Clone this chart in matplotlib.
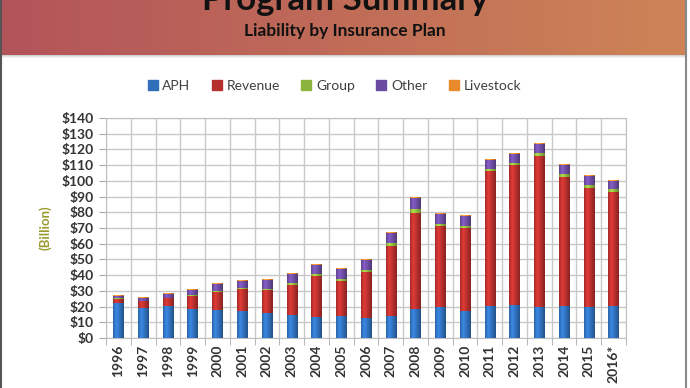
import numpy as np
import matplotlib
matplotlib.use("Agg")
import matplotlib.pyplot as plt
from matplotlib.colors import to_rgb
from matplotlib.lines import Line2D

years = ["1996", "1997", "1998", "1999", "2000", "2001", "2002", "2003", "2004",
         "2005", "2006", "2007", "2008", "2009", "2010", "2011", "2012", "2013",
         "2014", "2015", "2016*"]
aph = [22.5, 19.3, 20.4, 18.3, 17.6, 17.0, 16.1, 14.6, 13.6, 14.0, 12.5, 14.2,
       18.3, 19.9, 16.9, 20.3, 21.2, 19.5, 20.3, 19.5, 20.3]
revenue = [2.5, 4.2, 5.0, 8.5, 11.5, 14.2, 14.3, 19.2, 25.9, 22.5, 29.6, 44.6,
           61.5, 51.2, 53.1, 85.9, 88.8, 96.6, 82.4, 76.2, 72.6]
group = [0.3, 0.3, 0.3, 0.5, 0.5, 0.5, 1.0, 1.0, 1.0, 1.2, 1.0, 1.5,
         2.2, 1.5, 1.3, 1.4, 1.5, 1.5, 1.5, 1.5, 1.7]
other = [1.2, 1.5, 2.0, 3.5, 4.8, 4.4, 5.6, 5.8, 6.2, 6.5, 6.3, 6.8,
         7.3, 6.2, 6.2, 5.8, 5.9, 6.0, 5.8, 5.8, 5.0]
livestock = [0.1, 0.1, 0.1, 0.1, 0.2, 0.2, 0.2, 0.2, 0.2, 0.2, 0.3, 0.2,
             0.3, 0.2, 0.2, 0.3, 0.3, 0.4, 0.3, 0.3, 0.3]

series = [("APH", aph, "#2f6eb8"), ("Revenue", revenue, "#b52f2c"),
          ("Group", group, "#8cb43c"), ("Other", other, "#6b4ba0"),
          ("Livestock", livestock, "#e98a2c")]

FONT = "Lato"

fig = plt.figure(figsize=(6.9, 3.88), dpi=100)
fig.patch.set_facecolor("white")

# header band with gradient
hdr = fig.add_axes([0.003, 1 - 55 / 388, 0.99, 55 / 388])
c1 = np.array(to_rgb("#b2545a"))
c2 = np.array(to_rgb("#ce8456"))
t = np.linspace(0, 1, 256)[None, :, None]
hdr.imshow(c1 + (c2 - c1) * t, aspect="auto", extent=[0, 1, 0, 1])
hdr.set_axis_off()
# soft shadow under band
for i, a in enumerate([0.35, 0.2, 0.1]):
    fig.add_artist(plt.Rectangle((0.003, 1 - (56 + i) / 388), 0.99, 1 / 388,
                                 transform=fig.transFigure, color="gray",
                                 alpha=a, lw=0))

# title is clipped by the top edge in the original slide crop
fig.text(0.5, 1 - 10 / 388, "Program Summary", ha="center", va="baseline",
         fontsize=25, fontweight="bold", family=FONT, color="#111111")
fig.text(0.5, 1 - 36 / 388, "Liability by Insurance Plan", ha="center",
         va="baseline", fontsize=12.5, fontweight="bold", family=FONT,
         color="#111111")

# frame lines
fig.add_artist(Line2D([0.002, 0.002], [0, 1], transform=fig.transFigure,
                      color="#555555", lw=1.5))
fig.add_artist(Line2D([0.994, 0.994], [0, 1], transform=fig.transFigure,
                      color="#888888", lw=1.5))

ax = fig.add_axes([106 / 690, 1 - 338 / 388, 520 / 690, 220 / 388])
x = np.arange(len(years))
bottom = np.zeros(len(years))
prof = np.interp(np.linspace(0, 1, 64), [0, 0.3, 1], [0.9, 1.25, 0.75])
for name, vals, col in series:
    bars = ax.bar(x, vals, 0.42, bottom=bottom, color=col, label=name,
                  zorder=3, lw=0)
    base = np.array(to_rgb(col))
    grad = np.clip(base[None, None, :] * prof[None, :, None], 0, 1)
    for b in bars:
        bx, by, bw, bh = b.get_x(), b.get_y(), b.get_width(), b.get_height()
        ax.imshow(grad, extent=[bx, bx + bw, by, by + bh], aspect="auto",
                  zorder=4, interpolation="bilinear")
    bottom += np.array(vals)

ax.set_xlim(-0.5, len(years) - 0.5)
ax.set_ylim(0, 140)
ax.set_yticks(np.arange(0, 141, 10))
ax.set_yticklabels(["${}".format(v) for v in range(0, 141, 10)])
ax.set_xticks(x)
ax.set_xticklabels(years, rotation=90)
ax.set_xticks(np.arange(-0.5, len(years), 1), minor=True)
ax.grid(True, which="major", axis="y", color="#c8c8c8", lw=1, zorder=0)
ax.grid(True, which="minor", axis="x", color="#c8c8c8", lw=1, zorder=0)
ax.tick_params(axis="x", which="major", length=0, pad=5)
ax.tick_params(axis="x", which="minor", length=5, color="#aaaaaa")
ax.tick_params(axis="y", length=5, color="#aaaaaa", pad=4)
for lab in ax.get_xticklabels() + ax.get_yticklabels():
    lab.set_family(FONT)
    lab.set_fontsize(10)
    lab.set_fontweight("bold")
    lab.set_color("#333333")
for s in ax.spines.values():
    s.set_color("#c0c0c0")

ax.set_ylabel("(Billion)", family=FONT, fontsize=9.5, fontweight="bold",
              color="#9a9a2e", labelpad=7)

handles = [Line2D([], [], marker="s", ls="", markersize=7, color=c,
                  markeredgecolor=c) for _, _, c in series]
fig.legend(handles, [n for n, _, _ in series], loc="center",
           bbox_to_anchor=(0.482, 1 - 86 / 388), ncol=5, frameon=False,
           prop={"family": FONT, "size": 10}, handletextpad=0.1,
           handlelength=1.2, columnspacing=1.3, labelcolor="#404040")

fig.savefig("out.png", dpi=100)
